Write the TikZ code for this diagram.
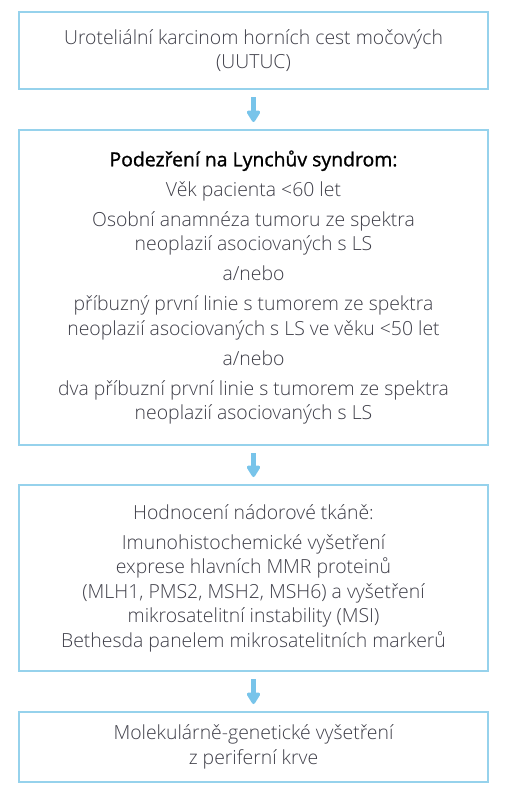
\documentclass[tikz,border=0pt]{standalone}
\usepackage{fontspec}
\setmainfont{Open Sans}[UprightFont={* Light}, BoldFont={*}, BoldFeatures={FakeBold=1.2}]
\usepackage{tikz}
\usetikzlibrary{arrows.meta}
\definecolor{frameblue}{RGB}{150,210,236}
\definecolor{arrowblue}{RGB}{120,196,234}
\definecolor{textgray}{RGB}{62,62,72}

\begin{document}
\begin{tikzpicture}[x=1pt,y=1pt]
  \tikzstyle{box}=[rectangle, draw=frameblue, line width=2pt, text=textgray, align=center, minimum width=469pt, inner sep=0pt, font=\fontsize{19.4}{24.5}\selectfont]
  \tikzstyle{go}=[arrowblue, line width=4.5pt, -{Triangle[round, width=15pt, length=13pt]}, shorten <=7pt, shorten >=7pt]
  \useasboundingbox (0,0) rectangle (517,-800);
  \node[box, minimum height=77pt] (B_1) at (253.5,-50.5) {Uroteliální karcinom horních cest močových\\(UUTUC)};
  \node[box, minimum height=315pt] (B_2) at (253.5,-287.5) {\textcolor{black}{\textbf{Podezření na Lynchův syndrom:}}\\[5.5pt]
    Věk pacienta <60 let\\[5.5pt]
    Osobní anamnéza tumoru ze spektra\\neoplazií asociovaných s LS\\[5.5pt]
    a/nebo\\[5.5pt]
    příbuzný první linie s tumorem ze spektra\\neoplazií asociovaných s LS ve věku <50 let\\[5.5pt]
    a/nebo\\[5.5pt]
    dva příbuzní první linie s tumorem ze spektra\\neoplazií asociovaných s LS};
  \node[box, minimum height=186pt] (B_3) at (253.5,-578) {Hodnocení nádorové tkáně:\\[5.5pt]
    Imunohistochemické vyšetření\\exprese hlavních MMR proteinů\\(MLH1, PMS2, MSH2, MSH6) a vyšetření\\mikrosatelitní instability (MSI)\\Bethesda panelem mikrosatelitních markerů};
  \node[box, minimum height=70pt] (B_4) at (253.5,-747) {Molekulárně-genetické vyšetření\\z periferní krve};

  \draw[go] (B_1) -- (B_2);
  \draw[go] (B_2) -- (B_3);
  \draw[go] (B_3) -- (B_4);
\end{tikzpicture}
\end{document}
